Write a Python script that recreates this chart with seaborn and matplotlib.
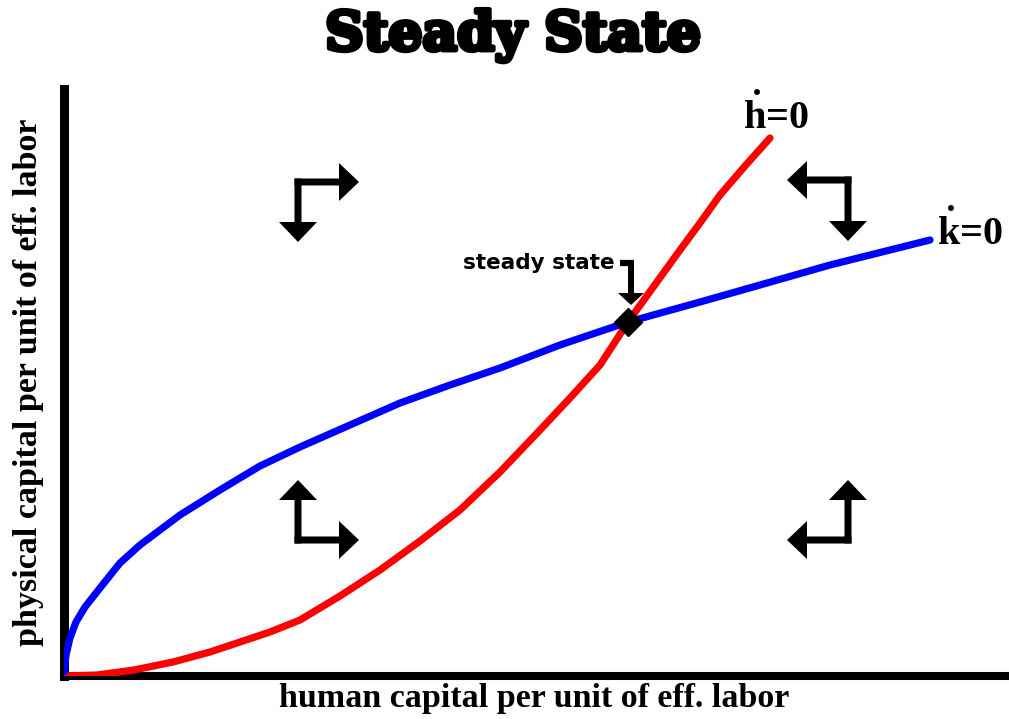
import matplotlib
matplotlib.use("Agg")
import matplotlib.pyplot as plt
import matplotlib.patheffects as pe
import seaborn as sns

# Curve points (x: human capital, y: physical capital)
hdot_x = [0, 33, 70, 109, 146, 176, 206, 236, 276, 316, 356, 396, 436, 476, 506, 536, 564, 590, 616, 636, 656, 681, 706]
hdot_y = [0, 1, 6, 14, 24, 34, 44, 56, 80, 106, 135, 166, 204, 246, 278, 311, 354, 390, 426, 453, 481, 510, 538]

kdot_x = [0, 2, 6, 12, 21, 36, 56, 76, 116, 156, 196, 236, 286, 336, 386, 436, 496, 564, 636, 696, 766, 866]
kdot_y = [4, 21, 38, 54, 69, 88, 113, 131, 161, 186, 210, 229, 251, 273, 291, 308, 331, 354, 374, 391, 411, 436]

steady_x = [564]
steady_y = [354]

# Phase arrows: corner, horizontal tip, vertical tip
phase_arrows = [
    ((234, 494), (295, 494), (234, 434)),
    ((234, 136), (295, 136), (234, 196)),
    ((784, 136), (723, 136), (784, 196)),
    ((784, 496), (723, 496), (784, 435)),
]

W, H = 1009, 719
fig = plt.figure(figsize=(W / 100, H / 100), dpi=100)
sns.set_style("white")
plt.rcParams["mathtext.fontset"] = "custom"
plt.rcParams["mathtext.bf"] = "Liberation Serif:bold"
plt.rcParams["mathtext.rm"] = "Liberation Serif"
plt.rcParams["text.color"] = "black"
plt.rcParams["axes.labelcolor"] = "black"

# axes box in pixels: left 64, right 1005, bottom 676, top 89
ax = fig.add_axes([64 / W, (H - 676) / H, 941 / W, 587 / H])
ax.set_xlim(0, 941)
ax.set_ylim(0, 587)

sns.lineplot(x=hdot_x, y=hdot_y, color="#ff0000", lw=5.2, estimator=None,
             sort=False, ax=ax, zorder=4)
sns.lineplot(x=kdot_x, y=kdot_y, color="#0000ff", lw=5.2, estimator=None,
             sort=False, ax=ax, zorder=4)
ax.plot(steady_x, steady_y, marker="D", ms=14, color="black", ls="none", zorder=6)

# L-shaped phase arrows
for (cx, cy), (hx, hy), (vx, vy) in phase_arrows:
    sx = 3.5 if hx > cx else -3.5
    sy = 3.5 if vy > cy else -3.5
    ax.arrow(cx - sx, cy, hx - cx + sx, 0, width=7, head_width=38, head_length=20,
             length_includes_head=True, color="black", lw=0, zorder=5)
    ax.arrow(cx, cy - sy, 0, vy - cy + sy, width=7, head_width=38, head_length=20,
             length_includes_head=True, color="black", lw=0, zorder=5)

# steady state pointer
ax.text(551, 407, "steady state", ha="right", va="baseline", fontsize=15.5,
        fontweight="bold", family="DejaVu Sans", color="black")
ax.plot([556, 570], [413, 413], color="black", lw=4.5, solid_capstyle="butt", zorder=5)
ax.arrow(567, 416, 0, -45, width=6, head_width=26, head_length=12,
         length_includes_head=True, color="black", lw=0, zorder=5)

# curve labels
ax.text(679, 547, r"$\mathbf{\dot{h}}$=0", ha="left", va="baseline", fontsize=29,
        fontweight="bold", family="Liberation Serif", color="black")
ax.text(873, 431, r"$\mathbf{\dot{k}}$=0", ha="left", va="baseline", fontsize=29,
        fontweight="bold", family="Liberation Serif", color="black")

ax.set_xticks([])
ax.set_yticks([])
for side in ["top", "right"]:
    ax.spines[side].set_visible(False)
ax.spines["left"].set_linewidth(6.5)
ax.spines["bottom"].set_linewidth(5.8)
ax.spines["left"].set_color("black")
ax.spines["bottom"].set_color("black")

ax.set_xlabel("human capital per unit of eff. labor", fontsize=24.5,
              fontweight="bold", family="Liberation Serif")
ax.set_ylabel("physical capital per unit of eff. labor", fontsize=24.5,
              fontweight="bold", family="Liberation Serif")
ax.xaxis.set_label_coords(0.5, -0.012)
ax.yaxis.set_label_coords(-0.021, 0.5)

fig.text(513 / W, 1 - 50 / H, "Steady State", ha="center", va="baseline",
         fontsize=38.5, fontweight="bold", family="DejaVu Serif", color="black",
         path_effects=[pe.withStroke(linewidth=3.5, foreground="black")])

fig.savefig("out.png", dpi=100, facecolor="white")
